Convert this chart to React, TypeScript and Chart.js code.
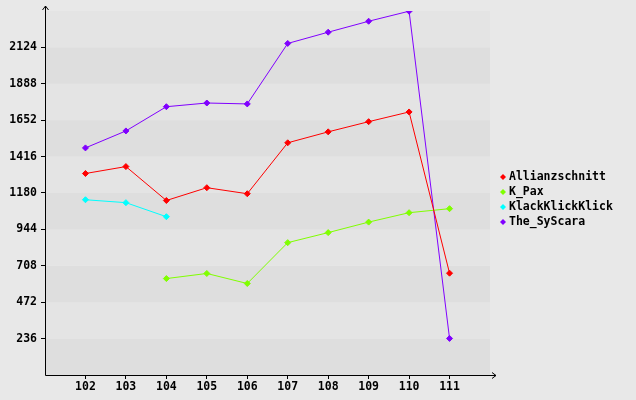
import React, { useEffect, useRef } from "react";
import { Chart, registerables } from "chart.js";

Chart.register(...registerables);

const categories = [102, 103, 104, 105, 106, 107, 108, 109, 110, 111];
const seriesNames = ["Allianzschnitt", "K_Pax", "KlackKlickKlick", "The_SyScara"];
const allianzschnitt = [1306, 1351, 1131, 1214, 1175, 1505, 1576, 1642, 1705, 660];
const kPax = [null, null, 625, 658, 593, 858, 923, 991, 1052, 1078];
const klackKlickKlick = [1136, 1117, 1026, null, null, null, null, null, null, null];
const theSyScara = [1472, 1582, 1739, 1763, 1757, 2149, 2222, 2293, 2358, 237];
const seriesColors = ["#ff0000", "#80ff00", "#00ffff", "#8000ff"];
const yTickValues = [236, 472, 708, 944, 1180, 1416, 1652, 1888, 2124];
const yMin = 0;
const yMax = 2360;
const yStep = 236;
const xMin = 101;
const xMax = 112;

const FONT = "bold 11.5px 'DejaVu Sans Mono'";

const bgPlugin = {
  id: "bgBands",
  beforeDraw(chart: any) {
    const { ctx, chartArea, width, height } = chart;
    const ys = chart.scales.y;
    ctx.save();
    ctx.fillStyle = "#e8e8e8";
    ctx.fillRect(0, 0, width, height);
    let i = 0;
    for (let v = yMin; v < yMax; v += yStep, i++) {
      const p0 = ys.getPixelForValue(v);
      const p1 = ys.getPixelForValue(Math.min(v + yStep, yMax));
      ctx.fillStyle = i % 2 === 0 ? "#dedede" : "#e4e4e4";
      ctx.fillRect(chartArea.left, p1, chartArea.right - chartArea.left, p0 - p1);
    }
    ctx.restore();
  },
};

const axesPlugin = {
  id: "axesArrows",
  afterDraw(chart: any) {
    const { ctx, chartArea } = chart;
    const l = Math.round(chartArea.left) + 0.5;
    const b = Math.round(chartArea.bottom) + 0.5;
    const t = Math.round(chartArea.top);
    const r = Math.round(chartArea.right);
    ctx.save();
    ctx.strokeStyle = "#000";
    ctx.lineWidth = 1;
    ctx.beginPath();
    ctx.moveTo(l, b);
    ctx.lineTo(l, t - 5);
    ctx.moveTo(l, b);
    ctx.lineTo(r + 6, b);
    // arrows
    ctx.moveTo(l - 3, t - 1);
    ctx.lineTo(l, t - 5);
    ctx.lineTo(l + 3, t - 1);
    ctx.moveTo(r + 2, b - 3);
    ctx.lineTo(r + 6, b);
    ctx.lineTo(r + 2, b + 3);
    ctx.stroke();

    // legend
    ctx.font = FONT;
    ctx.textBaseline = "middle";
    ctx.textAlign = "left";
    chart.data.datasets.forEach((ds: any, i: number) => {
      const y = 177 + i * 15;
      const x = r + 13;
      ctx.fillStyle = ds.borderColor;
      ctx.beginPath();
      ctx.moveTo(x, y - 3);
      ctx.lineTo(x + 3, y);
      ctx.lineTo(x, y + 3);
      ctx.lineTo(x - 3, y);
      ctx.closePath();
      ctx.fill();
      ctx.fillStyle = "#000";
      ctx.fillText(ds.label, x + 6, y);
    });
    ctx.restore();
  },
};

export default function App() {
  const ref = useRef<HTMLCanvasElement>(null);
  useEffect(() => {
    document.body.style.margin = "0";
    const all = [allianzschnitt, kPax, klackKlickKlick, theSyScara];
    const chart = new Chart(ref.current!, {
      type: "line",
      data: {
        datasets: all.map((vals, i) => ({
          label: seriesNames[i],
          data: categories.map((c, j) => ({ x: c, y: vals[j] })),
          borderColor: seriesColors[i],
          backgroundColor: seriesColors[i],
          borderWidth: 1,
          pointStyle: "rectRot",
          pointRadius: 3,
          pointBorderWidth: 1,
          pointHoverRadius: 3,
          tension: 0,
          spanGaps: false,
        })),
      },
      options: {
        animation: false,
        responsive: true,
        maintainAspectRatio: false,
        devicePixelRatio: 1,
        layout: { padding: { top: 10, right: 146, left: 0, bottom: 0 } },
        plugins: { legend: { display: false }, tooltip: { enabled: false } },
        scales: {
          x: {
            type: "linear",
            min: xMin,
            max: xMax,
            afterBuildTicks: (s: any) => {
              s.ticks = categories.map((c) => ({ value: c }));
            },
            afterFit: (s: any) => {
              s.height = 25;
            },
            ticks: {
              font: { family: "'DejaVu Sans Mono'", size: 11.5, weight: "bold" },
              color: "#000",
              padding: 1,
              maxRotation: 0,
              callback: (v: any) => String(v),
            },
            grid: { drawOnChartArea: false, drawTicks: true, tickLength: 4, color: "#000" },
            border: { display: false },
          },
          y: {
            type: "linear",
            min: yMin,
            max: yMax,
            afterBuildTicks: (s: any) => {
              s.ticks = yTickValues.map((v) => ({ value: v }));
            },
            afterFit: (s: any) => {
              s.width = 45;
            },
            ticks: {
              font: { family: "'DejaVu Sans Mono'", size: 11.5, weight: "bold" },
              color: "#000",
              padding: 4,
              callback: (v: any) => String(v),
            },
            grid: { drawOnChartArea: false, drawTicks: true, tickLength: 4, color: "#000" },
            border: { display: false },
          },
        },
      },
      plugins: [bgPlugin, axesPlugin],
    } as any);
    return () => chart.destroy();
  }, []);
  return (
    <div style={{ width: 636, height: 400, position: "relative" }}>
      <canvas ref={ref} />
    </div>
  );
}
